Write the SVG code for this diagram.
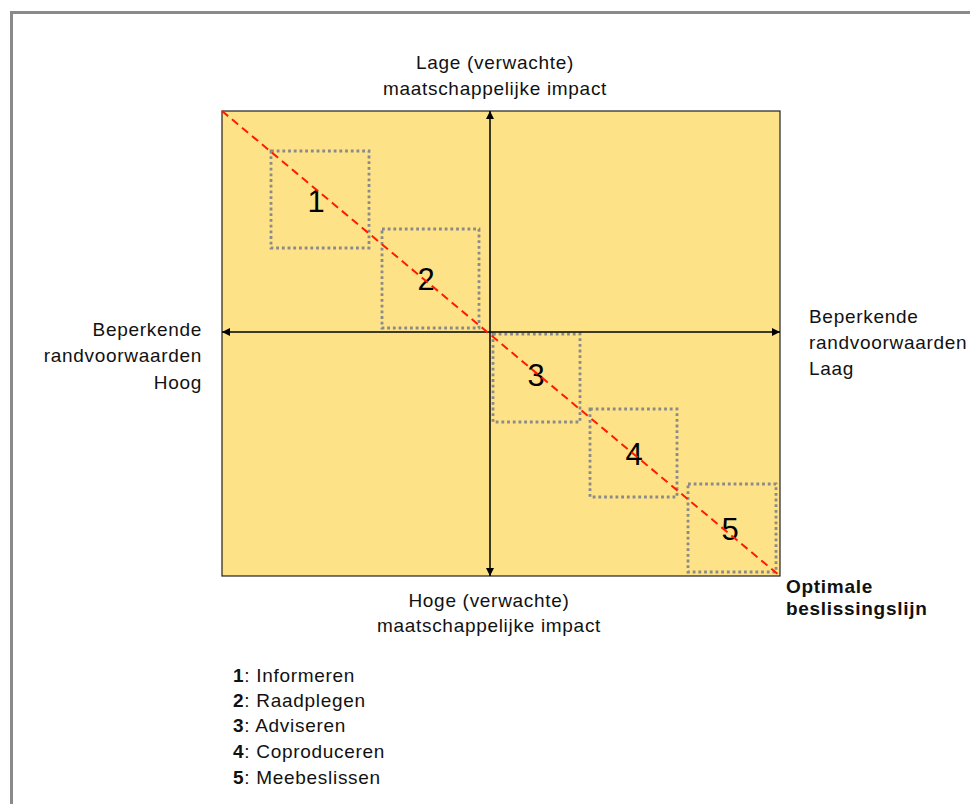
<svg xmlns="http://www.w3.org/2000/svg" width="970" height="804" viewBox="0 0 970 804">
  <style>
    .lbl { font-family: "Liberation Sans", Arial, sans-serif; font-size: 19px; letter-spacing: 0.7px; fill: #111; }
    .num { font-family: "Liberation Sans", Arial, sans-serif; font-size: 31px; fill: #000; text-anchor: middle; }
    .zone { fill: none; stroke: #8a8a8a; stroke-width: 2.8; stroke-dasharray: 2.8 2.9; }
    .axis { stroke: #000; stroke-width: 1.5; fill: none; }
  </style>
  <defs>
    <marker id="arrow" viewBox="0 0 10 10" refX="10" refY="5" markerWidth="8" markerHeight="8" markerUnits="userSpaceOnUse" orient="auto-start-reverse">
      <path d="M0,0 L10,5 L0,10 Z" fill="#000"/>
    </marker>
  </defs>

  <rect width="970" height="804" fill="#fff"/>
  <!-- outer frame -->
  <rect x="11.5" y="12.5" width="1000" height="850" fill="none" stroke="#8a8a8a" stroke-width="3"/>

  <!-- matrix field -->
  <g id="field">
    <rect x="222" y="111" width="558" height="465" fill="#fee287" stroke="#222" stroke-width="1.2"/>
  </g>

  <!-- participation zones -->
  <g id="zone1"><rect class="zone" x="271" y="151" width="98" height="97"/><text class="num" x="316" y="212">1</text></g>
  <g id="zone2"><rect class="zone" x="382" y="229" width="97" height="99"/><text class="num" x="426" y="290">2</text></g>
  <g id="zone3"><rect class="zone" x="493" y="334" width="87" height="88"/><text class="num" x="536" y="386">3</text></g>
  <g id="zone4"><rect class="zone" x="590" y="409" width="87" height="88"/><text class="num" x="634" y="465">4</text></g>
  <g id="zone5"><rect class="zone" x="688" y="484" width="88" height="88"/><text class="num" x="730" y="540">5</text></g>

  <!-- axes and decision line -->
  <g id="connectors">
    <line class="axis" x1="490" y1="576" x2="490" y2="111" marker-start="url(#arrow)" marker-end="url(#arrow)"/>
    <line class="axis" x1="222" y1="332" x2="780" y2="332" marker-start="url(#arrow)" marker-end="url(#arrow)"/>
    <line x1="222" y1="111" x2="780" y2="576" stroke="#ff1a00" stroke-width="2" stroke-dasharray="8 5"/>
  </g>

  <!-- axis labels -->
  <g id="label-top">
    <text class="lbl" x="495" y="69" text-anchor="middle">Lage (verwachte)</text>
    <text class="lbl" x="495" y="95" text-anchor="middle">maatschappelijke impact</text>
  </g>
  <g id="label-bottom">
    <text class="lbl" x="489" y="607" text-anchor="middle">Hoge (verwachte)</text>
    <text class="lbl" x="489" y="632" text-anchor="middle">maatschappelijke impact</text>
  </g>
  <g id="label-left">
    <text class="lbl" x="202" y="336" text-anchor="end">Beperkende</text>
    <text class="lbl" x="202" y="362" text-anchor="end">randvoorwaarden</text>
    <text class="lbl" x="202" y="389" text-anchor="end">Hoog</text>
  </g>
  <g id="label-right">
    <text class="lbl" x="809" y="323">Beperkende</text>
    <text class="lbl" x="809" y="349">randvoorwaarden</text>
    <text class="lbl" x="809" y="375">Laag</text>
  </g>
  <g id="label-line">
    <text class="lbl" x="786" y="593" font-weight="bold" letter-spacing="0.2">Optimale</text>
    <text class="lbl" x="786" y="615" font-weight="bold" letter-spacing="0.2">beslissingslijn</text>
  </g>

  <!-- legend -->
  <g id="legend">
    <text class="lbl" x="233" y="682"><tspan font-weight="bold">1</tspan>: Informeren</text>
    <text class="lbl" x="233" y="707"><tspan font-weight="bold">2</tspan>: Raadplegen</text>
    <text class="lbl" x="233" y="732"><tspan font-weight="bold">3</tspan>: Adviseren</text>
    <text class="lbl" x="233" y="758"><tspan font-weight="bold">4</tspan>: Coproduceren</text>
    <text class="lbl" x="233" y="784"><tspan font-weight="bold">5</tspan>: Meebeslissen</text>
  </g>
</svg>
